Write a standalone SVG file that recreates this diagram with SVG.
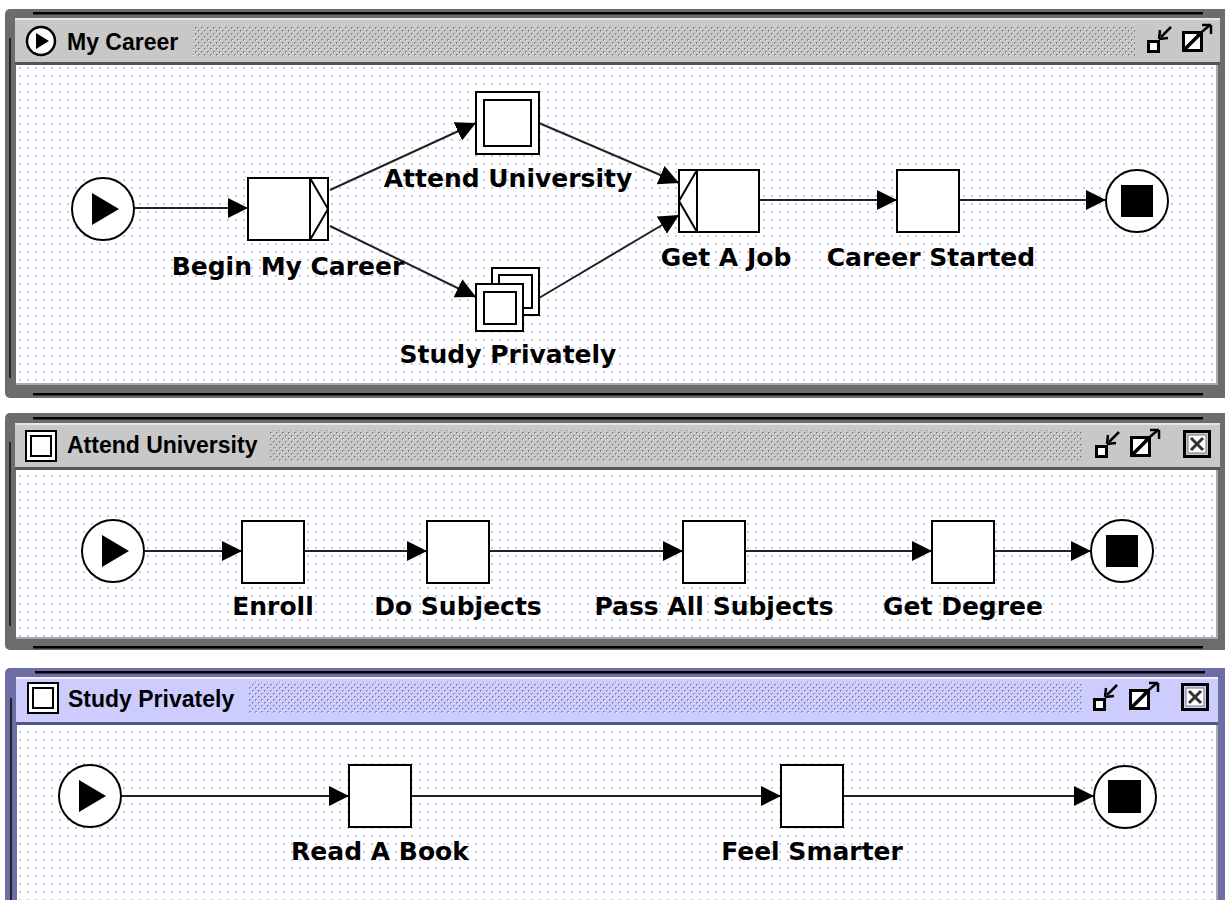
<svg xmlns="http://www.w3.org/2000/svg" width="1225" height="900" viewBox="0 0 1225 900">
<defs>
  <pattern id="grid" width="8" height="8" patternUnits="userSpaceOnUse">
    <rect x="3" y="3" width="2" height="2" fill="#c6c6f6"/>
  </pattern>
  <pattern id="tex" width="6" height="6" patternUnits="userSpaceOnUse">
    <rect x="0" y="0" width="2" height="2" fill="#8a8a8a"/>
    <rect x="3" y="3" width="2" height="2" fill="#8a8a8a"/>
    <rect x="1" y="1" width="1" height="1" fill="#f4f4f4"/>
    <rect x="4" y="4" width="1" height="1" fill="#f4f4f4"/>
  </pattern>
  <pattern id="texP" width="6" height="6" patternUnits="userSpaceOnUse">
    <rect x="0" y="0" width="2" height="2" fill="#8a8ab4"/>
    <rect x="3" y="3" width="2" height="2" fill="#8a8ab4"/>
    <rect x="1" y="1" width="1" height="1" fill="#f4f4ff"/>
    <rect x="4" y="4" width="1" height="1" fill="#f4f4ff"/>
  </pattern>
  <marker id="arr" markerUnits="userSpaceOnUse" markerWidth="22" markerHeight="22" refX="20" refY="10" orient="auto" viewBox="0 0 22 22">
    <path d="M0,0 L20,10 L0,20 z" fill="#000"/>
  </marker>
  <g id="minIcon">
    <rect x="1.5" y="16.5" width="10" height="10" fill="#fff" stroke="#000" stroke-width="3"/>
    <path d="M24,2 L14,12" stroke="#000" stroke-width="2.5" fill="none"/>
    <path d="M12,14 L13,5 M12,14 L21,13" stroke="#000" stroke-width="2.5" fill="none"/>
  </g>
  <g id="maxIcon">
    <rect x="1.5" y="8.5" width="18" height="18" fill="#fff" stroke="#000" stroke-width="3"/>
    <path d="M3,25 L18,10" stroke="#000" stroke-width="3.5"/>
    <path d="M15,12 L28,1" stroke="#000" stroke-width="2.5" fill="none"/>
    <path d="M29,1 L20,1 M29,1 L29,10" stroke="#000" stroke-width="2.5" fill="none"/>
  </g>
  <g id="closeIcon">
    <rect x="1.5" y="1.5" width="25" height="25" fill="none" stroke="#000" stroke-width="3"/>
    <rect x="5" y="5" width="18" height="18" fill="#fff" stroke="#777" stroke-width="1"/>
    <path d="M8,8 L20,20 M20,8 L8,20" stroke="#333" stroke-width="3"/>
  </g>
</defs>
<style>
  .frame { fill:#6c6c6c; }
  .frameP { fill:#6e6ea6; }
  .tbar { fill:#c8c8c8; }
  .tbarP { fill:#ccccff; }
  .content { fill:#ffffff; }
  .dots { fill:url(#grid); }
  .ttl { font-family:"Liberation Sans", Arial, sans-serif; font-weight:bold; font-size:23px; fill:#000; }
  .lbl { font-family:"DejaVu Sans", "Liberation Sans", sans-serif; font-weight:bold; font-size:25px; fill:#000; text-anchor:middle; }
  .box { fill:#fff; stroke:#000; stroke-width:2; }
  .edge { fill:none; stroke:#222; stroke-width:2; marker-end:url(#arr); }
  .thin { fill:none; stroke:#000; stroke-width:2; }
</style>
<rect width="1225" height="900" fill="#fff"/>

<!-- ===== Window 1: My Career ===== -->
<g id="win-mycareer">
  <rect class="frame" x="5" y="9" width="1225" height="389" rx="5"/>
  <rect x="33" y="12" width="1170" height="2.5" fill="#000"/>
  <rect x="33" y="393" width="1170" height="2.5" fill="#000"/>
  <rect x="9" y="38" width="2" height="340" fill="#222"/>
  <rect class="tbar" x="15" y="18" width="1205" height="44"/>
  <rect x="15" y="18" width="1205" height="2" fill="#e6e6e6"/>
  <rect x="15" y="62" width="1205" height="3" fill="#555"/>
  <rect x="193" y="27" width="942" height="30" fill="url(#tex)"/>
  <rect class="content" x="16" y="65" width="1201" height="319"/>
  <rect class="dots" x="16" y="65" width="1201" height="319"/>
  <rect x="16" y="383" width="1202" height="2" fill="#aaa"/>
  <rect x="1216" y="65" width="2" height="320" fill="#aaa"/>
  <circle cx="41" cy="41" r="14" fill="#fff" stroke="#000" stroke-width="2.5"/>
  <path d="M36,33 L36,49 L49,41 z" fill="#000"/>
  <text class="ttl" x="67" y="50">My Career</text>
  <use href="#minIcon" x="1147" y="25"/>
  <use href="#maxIcon" x="1182" y="24"/>
</g>

<!-- ===== Window 2: Attend University ===== -->
<g id="win-attend">
  <rect class="frame" x="5" y="413" width="1225" height="237" rx="5"/>
  <rect x="33" y="417" width="1170" height="2.5" fill="#000"/>
  <rect x="33" y="646" width="1170" height="2.5" fill="#000"/>
  <rect x="9" y="442" width="2" height="184" fill="#222"/>
  <rect class="tbar" x="15" y="423" width="1205" height="44"/>
  <rect x="15" y="423" width="1205" height="2" fill="#e6e6e6"/>
  <rect x="15" y="467" width="1205" height="3" fill="#555"/>
  <rect x="270" y="430" width="813" height="31" fill="url(#tex)"/>
  <rect class="content" x="16" y="470" width="1201" height="168"/>
  <rect class="dots" x="16" y="470" width="1201" height="168"/>
  <rect x="16" y="637" width="1202" height="2" fill="#aaa"/>
  <rect x="1216" y="470" width="2" height="168" fill="#aaa"/>
  <rect x="26" y="431" width="30" height="30" fill="#fff" stroke="#000" stroke-width="2"/>
  <rect x="31" y="436" width="20" height="20" fill="#fff" stroke="#000" stroke-width="2"/>
  <text class="ttl" x="67" y="453">Attend University</text>
  <use href="#minIcon" x="1095" y="430"/>
  <use href="#maxIcon" x="1130" y="429"/>
  <use href="#closeIcon" x="1183" y="430"/>
</g>

<!-- ===== Window 3: Study Privately ===== -->
<g id="win-study">
  <rect class="frameP" x="5" y="668" width="1225" height="240" rx="5"/>
  <rect x="35" y="671" width="1170" height="2.5" fill="#000"/>
  <rect x="10" y="698" width="2" height="210" fill="#222"/>
  <rect class="tbarP" x="16" y="677" width="1202" height="45"/>
  <rect x="16" y="677" width="1202" height="2" fill="#eeeeff"/>
  <rect x="16" y="722" width="1202" height="3" fill="#55558a"/>
  <rect x="248" y="682" width="834" height="31" fill="url(#texP)"/>
  <rect class="content" x="17" y="725" width="1200" height="180"/>
  <rect class="dots" x="17" y="725" width="1200" height="180"/>
  <rect x="1216" y="725" width="2" height="180" fill="#aaa"/>
  <rect x="28" y="683" width="30" height="30" fill="#fff" stroke="#000" stroke-width="2"/>
  <rect x="33" y="688" width="20" height="20" fill="#fff" stroke="#000" stroke-width="2"/>
  <text class="ttl" x="68" y="707">Study Privately</text>
  <use href="#minIcon" x="1093" y="683"/>
  <use href="#maxIcon" x="1129" y="682"/>
  <use href="#closeIcon" x="1181" y="683"/>
</g>

<!-- ===== Connectors ===== -->
<g id="connectors">
  <path class="edge" d="M134,208 L248,208"/>
  <path class="edge" d="M330,190 L476,123"/>
  <path class="edge" d="M330,226 L476,297"/>
  <path class="edge" d="M539,123 L679,183"/>
  <path class="edge" d="M539,298 L679,215"/>
  <path class="edge" d="M759,200 L897,200"/>
  <path class="edge" d="M959,200 L1106,200"/>

  <path class="edge" d="M144,551 L242,551"/>
  <path class="edge" d="M304,551 L427,551"/>
  <path class="edge" d="M489,551 L683,551"/>
  <path class="edge" d="M745,551 L932,551"/>
  <path class="edge" d="M994,551 L1091,551"/>

  <path class="edge" d="M121,796 L349,796"/>
  <path class="edge" d="M411,796 L781,796"/>
  <path class="edge" d="M843,796 L1094,796"/>
</g>

<!-- ===== Nodes: My Career ===== -->
<g id="n-start1">
  <circle cx="103" cy="209" r="31" fill="#fff" stroke="#000" stroke-width="2"/>
  <path d="M92,193 L92,225 L119,209 z" fill="#000"/>
</g>
<g id="n-begin">
  <rect class="box" x="248" y="178" width="80" height="62"/>
  <path class="thin" d="M310,178 L310,240 M310,178 L328,209 L310,240"/>
  <text class="lbl" x="288" y="275">Begin My Career</text>
</g>
<g id="n-attend">
  <rect class="box" x="476" y="92" width="63" height="62"/>
  <rect class="box" x="484" y="100" width="47" height="46"/>
  <text class="lbl" x="508" y="187">Attend University</text>
</g>
<g id="n-study">
  <rect class="box" x="492" y="268" width="47" height="47"/>
  <rect class="box" x="499" y="275" width="33" height="33"/>
  <rect class="box" x="476" y="284" width="47" height="47"/>
  <rect class="box" x="484" y="292" width="32" height="32"/>
  <text class="lbl" x="508" y="363">Study Privately</text>
</g>
<g id="n-job">
  <rect class="box" x="679" y="170" width="80" height="62"/>
  <path class="thin" d="M697,170 L697,232 M697,170 L679,201 L697,232"/>
  <text class="lbl" x="726" y="266">Get A Job</text>
</g>
<g id="n-started">
  <rect class="box" x="897" y="170" width="62" height="62"/>
  <text class="lbl" x="931" y="266">Career Started</text>
</g>
<g id="n-end1">
  <circle cx="1137" cy="201" r="31" fill="#fff" stroke="#000" stroke-width="2"/>
  <rect x="1121" y="185" width="32" height="32" fill="#000"/>
</g>

<!-- ===== Nodes: Attend University ===== -->
<g id="n-start2">
  <circle cx="113" cy="551" r="31" fill="#fff" stroke="#000" stroke-width="2"/>
  <path d="M102,535 L102,567 L129,551 z" fill="#000"/>
</g>
<g id="n-enroll">
  <rect class="box" x="242" y="521" width="62" height="62"/>
  <text class="lbl" x="273" y="615">Enroll</text>
</g>
<g id="n-dosubjects">
  <rect class="box" x="427" y="521" width="62" height="62"/>
  <text class="lbl" x="458" y="615">Do Subjects</text>
</g>
<g id="n-pass">
  <rect class="box" x="683" y="521" width="62" height="62"/>
  <text class="lbl" x="714" y="615">Pass All Subjects</text>
</g>
<g id="n-degree">
  <rect class="box" x="932" y="521" width="62" height="62"/>
  <text class="lbl" x="963" y="615">Get Degree</text>
</g>
<g id="n-end2">
  <circle cx="1122" cy="551" r="31" fill="#fff" stroke="#000" stroke-width="2"/>
  <rect x="1106" y="535" width="32" height="32" fill="#000"/>
</g>

<!-- ===== Nodes: Study Privately ===== -->
<g id="n-start3">
  <circle cx="90" cy="796" r="31" fill="#fff" stroke="#000" stroke-width="2"/>
  <path d="M79,780 L79,812 L106,796 z" fill="#000"/>
</g>
<g id="n-book">
  <rect class="box" x="349" y="765" width="62" height="62"/>
  <text class="lbl" x="380" y="860">Read A Book</text>
</g>
<g id="n-smarter">
  <rect class="box" x="781" y="765" width="62" height="62"/>
  <text class="lbl" x="812" y="860">Feel Smarter</text>
</g>
<g id="n-end3">
  <circle cx="1125" cy="797" r="31" fill="#fff" stroke="#000" stroke-width="2"/>
  <rect x="1108" y="780" width="33" height="33" fill="#000"/>
</g>
</svg>
